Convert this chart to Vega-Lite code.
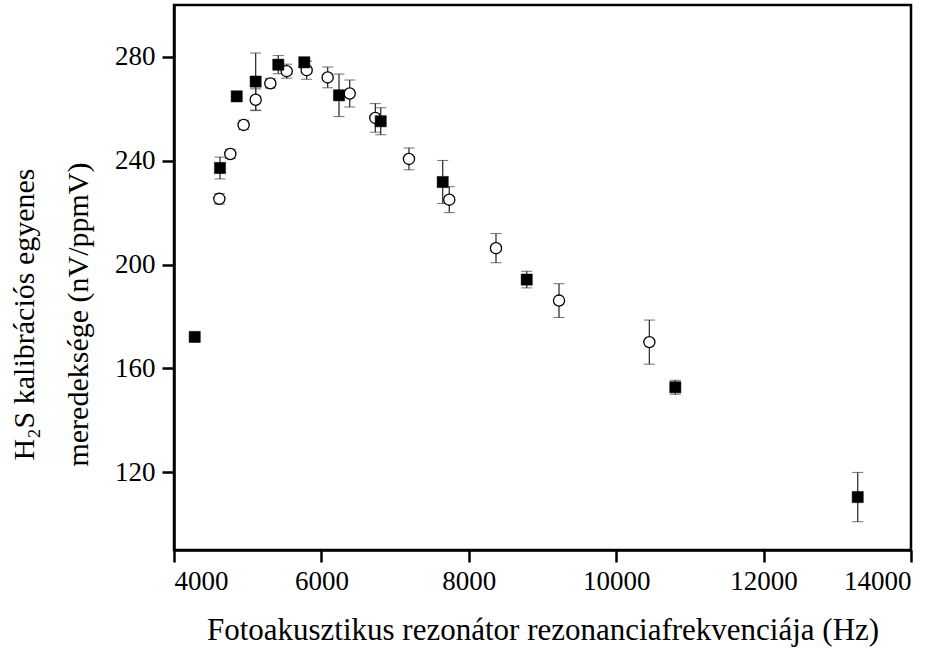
{
  "$schema": "https://vega.github.io/schema/vega-lite/v6.json",
  "autosize": {"type": "none"},
  "padding": {"left": 174, "top": 5, "right": 36, "bottom": 105},
  "width": 737,
  "height": 545,
  "background": "white",
  "config": {
    "view": {"stroke": "black", "strokeWidth": 2.5},
    "axis": {
      "grid": false,
      "labelFont": "Liberation Serif",
      "labelFontSize": 27,
      "labelColor": "black",
      "titleFont": "Liberation Serif",
      "titleFontSize": 30,
      "titleFontWeight": "normal",
      "titleColor": "black",
      "domainColor": "black",
      "domainWidth": 2.5,
      "tickColor": "black",
      "tickWidth": 2.5,
      "tickSize": 12
    }
  },
  "data": {
    "values": [
      {"series": "filled", "f": 4281, "s": 172.1, "err": 0},
      {"series": "filled", "f": 4624, "s": 237.2, "err": 4.2},
      {"series": "filled", "f": 4851, "s": 264.8, "err": 0},
      {"series": "filled", "f": 5108, "s": 270.5, "err": 11},
      {"series": "filled", "f": 5415, "s": 277.0, "err": 3.5},
      {"series": "filled", "f": 5768, "s": 277.9, "err": 2},
      {"series": "filled", "f": 6239, "s": 265.2, "err": 8.2},
      {"series": "filled", "f": 6805, "s": 255.2, "err": 5.2},
      {"series": "filled", "f": 7646, "s": 231.8, "err": 8.3},
      {"series": "filled", "f": 8786, "s": 194.2, "err": 3.2},
      {"series": "filled", "f": 10802, "s": 152.7, "err": 2.7},
      {"series": "filled", "f": 13277, "s": 110.4, "err": 9.5},
      {"series": "open", "f": 4615, "s": 225.3, "err": 2},
      {"series": "open", "f": 4764, "s": 242.6, "err": 1.8},
      {"series": "open", "f": 4945, "s": 253.8, "err": 1.8},
      {"series": "open", "f": 5108, "s": 263.5, "err": 4.2},
      {"series": "open", "f": 5307, "s": 269.8, "err": 1.8},
      {"series": "open", "f": 5529, "s": 274.5, "err": 2.7},
      {"series": "open", "f": 5800, "s": 274.9, "err": 3.5},
      {"series": "open", "f": 6085, "s": 272.1, "err": 4},
      {"series": "open", "f": 6384, "s": 265.9, "err": 5.2},
      {"series": "open", "f": 6732, "s": 256.5, "err": 5.5},
      {"series": "open", "f": 7188, "s": 240.7, "err": 4.2},
      {"series": "open", "f": 7735, "s": 225.0, "err": 5},
      {"series": "open", "f": 8369, "s": 206.3, "err": 5.6},
      {"series": "open", "f": 9224, "s": 186.1, "err": 6.5},
      {"series": "open", "f": 10450, "s": 170.1, "err": 8.5}
    ]
  },
  "encoding": {
    "x": {
      "field": "f",
      "type": "quantitative",
      "scale": {"domain": [4000, 14000], "nice": false, "zero": false},
      "axis": {
        "values": [4000, 6000, 8000, 10000, 12000, 14000],
        "format": "d",
        "labelPadding": 6,
        "title": "Fotoakusztikus rezonátor rezonanciafrekvenciája (Hz)",
        "titleFontSize": 31,
        "titlePadding": 21
      }
    },
    "y": {
      "field": "s",
      "type": "quantitative",
      "scale": {"domain": [90, 300], "nice": false, "zero": false},
      "axis": {
        "values": [120, 160, 200, 240, 280],
        "labelPadding": 7,
        "title": ["H₂S kalibrációs egyenes", "meredeksége (nV/ppmV)"],
        "titleLineHeight": 54,
        "titleX": -141,
        "titleY": 309,
        "titleAlign": "center",
        "titleBaseline": "alphabetic"
      }
    }
  },
  "layer": [
    {
      "mark": {
        "type": "errorbar",
        "ticks": {"size": 11, "color": "#333333", "strokeWidth": 1.3},
        "rule": {"color": "#333333", "strokeWidth": 1.3}
      },
      "encoding": {
        "yError": {"field": "err"}
      }
    },
    {
      "transform": [{"filter": "datum.series === 'open'"}],
      "mark": {"type": "point", "shape": "circle", "size": 125, "filled": false, "fill": "white", "stroke": "black", "strokeWidth": 1.3, "opacity": 1}
    },
    {
      "transform": [{"filter": "datum.series === 'filled'"}],
      "mark": {"type": "point", "shape": "square", "size": 125, "filled": true, "fill": "black", "stroke": "black", "strokeWidth": 0.5, "opacity": 1}
    }
  ]
}
